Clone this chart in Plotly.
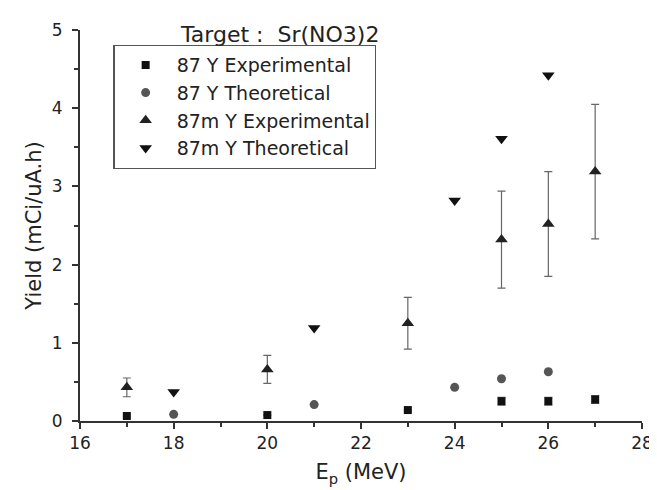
import plotly.graph_objects as go

# Data
x_87y_exp = [17, 20, 23, 25, 26, 27]
y_87y_exp = [0.064, 0.076, 0.14, 0.254, 0.254, 0.275]
e_87y_exp = [0.0, 0.0, 0.0, 0.05, 0.05, 0.05]

x_87y_th = [18, 21, 24, 25, 26]
y_87y_th = [0.085, 0.21, 0.43, 0.54, 0.63]

x_87my_exp = [17, 20, 23, 25, 26, 27]
y_87my_exp = [0.43, 0.66, 1.25, 2.32, 2.52, 3.19]
e_87my_exp = [0.12, 0.18, 0.33, 0.62, 0.67, 0.86]

x_87my_th = [18, 21, 24, 25, 26]
y_87my_th = [0.37, 1.19, 2.82, 3.61, 4.42]

x_ticks = [16, 18, 20, 22, 24, 26, 28]
y_ticks = [0, 1, 2, 3, 4, 5]

names = ["87 Y Experimental", "87 Y Theoretical", "87m Y Experimental", "87m Y Theoretical"]

font_family = "DejaVu Sans, Verdana, sans-serif"
txt = "#222222"
axc = "#333333"
err_style = dict(type="data", thickness=1.2, width=4, color="#666666")

fig = go.Figure()
fig.add_trace(go.Scatter(
    x=x_87y_exp, y=y_87y_exp, mode="markers", name=names[0],
    marker=dict(symbol="square", size=8, color="#111111"),
    error_y=dict(array=e_87y_exp, **err_style)))
fig.add_trace(go.Scatter(
    x=x_87y_th, y=y_87y_th, mode="markers", name=names[1],
    marker=dict(symbol="circle", size=9, color="#555555")))
fig.add_trace(go.Scatter(
    x=x_87my_exp, y=y_87my_exp, mode="markers", name=names[2],
    marker=dict(symbol="triangle-up", size=11, color="#222222"),
    error_y=dict(array=e_87my_exp, **err_style)))
fig.add_trace(go.Scatter(
    x=x_87my_th, y=y_87my_th, mode="markers", name=names[3],
    marker=dict(symbol="triangle-down", size=11, color="#111111")))

fig.update_layout(
    width=657, height=490,
    margin=dict(l=72, r=14, t=20, b=77),
    paper_bgcolor="white", plot_bgcolor="white",
    font=dict(family=font_family, size=18, color=txt),
    showlegend=True,
    legend=dict(
        x=0.0595, y=0.962, xanchor="left", yanchor="top",
        bordercolor="#555555", borderwidth=1.2, bgcolor="white",
        font=dict(size=19, color=txt),
        itemwidth=52,
    ),
    annotations=[dict(
        text="Target :  Sr(NO3)2", x=(172 - 72) / 571, y=(413 - 25) / 393, xref="paper", yref="paper",
        xanchor="left", yanchor="middle", showarrow=False,
        font=dict(size=22, color=txt))],
)

fig.update_xaxes(
    range=[16, 28], tickvals=x_ticks,
    showgrid=False, zeroline=False, showline=True, linecolor=axc, linewidth=2,
    ticks="outside", ticklen=6, tickwidth=2, tickcolor=axc,
    minor=dict(tickvals=[17, 19, 21, 23, 25, 27], ticks="outside", ticklen=4, tickwidth=2, tickcolor=axc),
    tickfont=dict(size=17, color=txt),
    title=dict(text="E<sub>p</sub> (MeV)", font=dict(size=21, color=txt), standoff=12),
)
fig.update_yaxes(
    range=[0, 5], tickvals=y_ticks,
    showgrid=False, zeroline=False, showline=True, linecolor=axc, linewidth=2,
    ticks="outside", ticklen=6, tickwidth=2, tickcolor=axc,
    minor=dict(tickvals=[0.5, 1.5, 2.5, 3.5, 4.5], ticks="outside", ticklen=4, tickwidth=2, tickcolor=axc),
    tickfont=dict(size=17, color=txt), ticklabelstandoff=6,
    title=dict(text="Yield (mCi/uA.h)", font=dict(size=21, color=txt), standoff=4),
)

fig.write_html("out.html")
